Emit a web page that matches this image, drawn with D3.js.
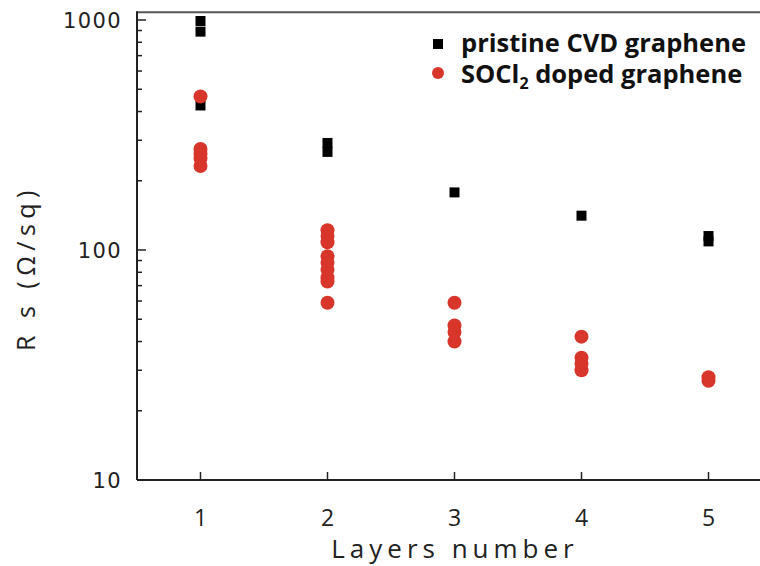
<!DOCTYPE html>
<html>
<head>
<meta charset="utf-8">
<script src="https://cdn.jsdelivr.net/npm/d3@7"></script>
<style>
  body { margin: 0; background: #fff; }
  svg { display: block; }
</style>
</head>
<body>
<div id="chart"></div>
<script>
// Layer numbers on the x axis
var layers = [1, 2, 3, 4, 5];

// Sheet resistance (Ohm/sq), one list per layer number
var pristineRs = [
    [990, 890, 425],
    [292, 267],
    [178],
    [141],
    [115, 109]
];
var dopedRs = [
    [465, 275, 262, 250, 232],
    [122, 115, 108, 94, 88, 82, 76, 73, 59],
    [59, 47, 44, 40],
    [42, 34, 32, 30],
    [28, 27]
];

var yTicks = [10, 100, 1000];
var legendLabels = ["pristine CVD graphene", "SOCl", "doped graphene"];

var width = 760, height = 566;
var red = "#d8352b";

var svg = d3.select("#chart")
    .append("svg")
    .attr("width", width)
    .attr("height", height);

// x: half a layer of padding on each side, right edge runs off the page
var x = d3.scaleLinear()
    .domain([0.5, 5.5])
    .range([137, 772]);

// y: log scale, about 230px per decade
var y = d3.scaleLog()
    .domain([10, 1000])
    .range([480, 20]);

// flatten the per-layer lists into points
function toPoints(lists) {
    var pts = [];
    lists.forEach(function(vals, i) {
        vals.forEach(function(v) { pts.push({layer: layers[i], rs: v}); });
    });
    return pts;
}
var pristinePts = toPoints(pristineRs);
var dopedPts = toPoints(dopedRs);

// frame
var yTop = y(1080);
svg.append("line")
    .attr("x1", x(0.5)).attr("x2", x(5.5))
    .attr("y1", yTop).attr("y2", yTop)
    .attr("stroke", "#555").attr("stroke-width", 2);
svg.append("line")
    .attr("x1", x(0.5)).attr("x2", x(0.5))
    .attr("y1", yTop - 1).attr("y2", y(10))
    .attr("stroke", "#222").attr("stroke-width", 2);
svg.append("line")
    .attr("x1", x(0.5)).attr("x2", x(5.5))
    .attr("y1", y(10)).attr("y2", y(10))
    .attr("stroke", "#222").attr("stroke-width", 2);

// y ticks (inward), major + minor
var minor = [];
[10, 100].forEach(function(d) {
    for (var k = 2; k <= 9; k++) minor.push(d * k);
});
svg.selectAll(".ytick")
    .data(yTicks.concat(minor))
    .enter().append("line")
    .attr("x1", x(0.5))
    .attr("x2", function(d) { return x(0.5) + (yTicks.indexOf(d) >= 0 ? 9 : 5); })
    .attr("y1", function(d) { return y(d); })
    .attr("y2", function(d) { return y(d); })
    .attr("stroke", "#222").attr("stroke-width", 1.5);

svg.selectAll(".ylabel")
    .data(yTicks)
    .enter().append("text")
    .attr("x", x(0.5) - 15)
    .attr("y", function(d) { return y(d); })
    .attr("dy", "0.36em")
    .attr("text-anchor", "end")
    .attr("font-family", "DejaVu Sans")
    .attr("font-size", "21px")
    .attr("letter-spacing", "1.4px")
    .attr("fill", "#222")
    .text(function(d) { return d; });

// x ticks (inward)
svg.selectAll(".xtick")
    .data(layers)
    .enter().append("line")
    .attr("x1", function(d) { return x(d); })
    .attr("x2", function(d) { return x(d); })
    .attr("y1", y(10))
    .attr("y2", y(10) - 8)
    .attr("stroke", "#222").attr("stroke-width", 1.5);

svg.selectAll(".xlabel")
    .data(layers)
    .enter().append("text")
    .attr("x", function(d) { return x(d); })
    .attr("y", 526)
    .attr("text-anchor", "middle")
    .attr("font-family", "Open Sans")
    .attr("font-size", "23px")
    .attr("fill", "#222")
    .text(function(d) { return d; });

// axis titles
svg.append("text")
    .attr("x", 455)
    .attr("y", 558)
    .attr("text-anchor", "middle")
    .attr("font-family", "Open Sans")
    .attr("font-size", "26px")
    .attr("letter-spacing", "5px")
    .attr("fill", "#222")
    .text("Layers number");

svg.append("text")
    .attr("transform", "translate(35," + 268 + ") rotate(-90)")
    .attr("text-anchor", "middle")
    .attr("font-family", "Open Sans")
    .attr("font-size", "25px")
    .attr("letter-spacing", "5.5px")
    .attr("fill", "#222")
    .text("R s (\u03A9/sq)");

// data: pristine squares
svg.selectAll(".pristine")
    .data(pristinePts)
    .enter().append("rect")
    .attr("x", function(d) { return x(d.layer) - 5; })
    .attr("y", function(d) { return y(d.rs) - 5; })
    .attr("width", 10)
    .attr("height", 10)
    .attr("fill", "#000");

// data: doped circles
svg.selectAll(".doped")
    .data(dopedPts)
    .enter().append("circle")
    .attr("cx", function(d) { return x(d.layer); })
    .attr("cy", function(d) { return y(d.rs); })
    .attr("r", 7)
    .attr("fill", red);

// legend
var legend = svg.append("g")
    .attr("font-family", "Open Sans")
    .attr("font-weight", "bold")
    .attr("font-size", "25.5px")
    .attr("fill", "#111");

legend.append("rect")
    .attr("x", 433).attr("y", 39)
    .attr("width", 10).attr("height", 10)
    .attr("fill", "#000");
legend.append("text")
    .attr("x", 461).attr("y", 52)
    .text(legendLabels[0]);

legend.append("circle")
    .attr("cx", 438).attr("cy", 73)
    .attr("r", 6)
    .attr("fill", red);
var t2 = legend.append("text")
    .attr("x", 461).attr("y", 83);
t2.append("tspan").text(legendLabels[1]);
t2.append("tspan")
    .attr("dy", 6)
    .attr("font-size", "16px")
    .text("2");
t2.append("tspan")
    .attr("dy", -6)
    .text(" " + legendLabels[2]);
</script>
</body>
</html>
